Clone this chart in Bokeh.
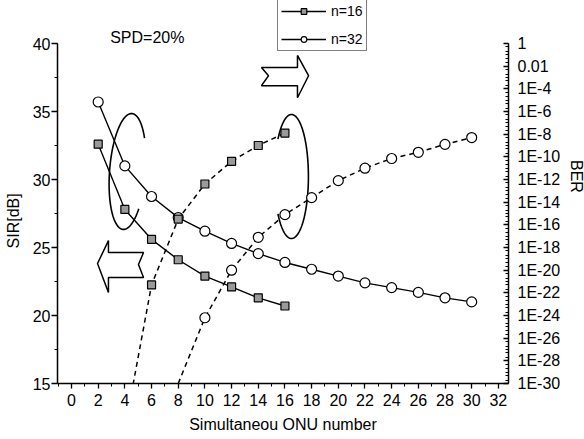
import numpy as np
from bokeh.plotting import figure
from bokeh.models import Range1d, LinearAxis, FixedTicker, Legend, LegendItem, Label
from bokeh.embed import file_html
from bokeh.resources import INLINE

# ---------------- data ----------------
onu_sir16 = [2, 4, 6, 8, 10, 12, 14, 16]
sir_n16 = [32.6, 27.8, 25.6, 24.1, 22.9, 22.1, 21.3, 20.7]

onu_sir32 = [2, 4, 6, 8, 10, 12, 14, 16, 18, 20, 22, 24, 26, 28, 30]
sir_n32 = [35.7, 31.0, 28.75, 27.2, 26.2, 25.3, 24.55, 23.9, 23.4, 22.9,
           22.4, 22.05, 21.7, 21.3, 21.0]

# BER curves (first value of each lies below the plotted range: only the line continues there)
onu_ber16 = [4, 6, 8, 10, 12, 14, 16]
ber_n16 = [1e-34, 5.0e-22, 3.2e-16, 4.0e-13, 4.0e-11, 1.0e-9, 1.26e-8]

onu_ber32 = [8, 10, 12, 14, 16, 18, 20, 22, 24, 26, 28, 30]
ber_n32 = [1e-30, 6.3e-25, 1.0e-20, 7.9e-18, 7.9e-16, 2.5e-14, 7.9e-13,
           1.0e-11, 7.1e-11, 2.5e-10, 1.26e-9, 5.0e-9]

x_ticks = list(range(0, 33, 2))
sir_ticks = [15, 20, 25, 30, 35, 40]
ber_exponents = list(range(-30, 1, 2))
ber_labels = ["1E%d" % e if e < -2 else ("0.01" if e == -2 else "1") for e in ber_exponents]

FONT = "Liberation Sans"
NBSP = "\u00a0"

# frame geometry: axes 15..40 dB (and 1E-30..1) occupy the lower 340 px of a 383 px frame
FRAME_W, FRAME_H, AXIS_H = 451, 383, 340
sir_top = 15 + (40 - 15) * FRAME_H / AXIS_H
ber_top = -30 + 30 * FRAME_H / AXIS_H

p = figure(frame_width=FRAME_W, frame_height=FRAME_H,
           x_range=Range1d(-1.05, 32.76), y_range=Range1d(15, sir_top),
           output_backend="svg", toolbar_location=None,
           min_border_left=57, min_border_right=76, min_border_top=0, min_border_bottom=54)
p.extra_y_ranges = {"ber": Range1d(-30, ber_top)}
p.xgrid.visible = False
p.ygrid.visible = False
p.outline_line_color = None
p.background_fill_color = "white"
p.border_fill_color = "white"

def style_axis(ax, size="16px"):
    ax.axis_line_color = "black"
    ax.axis_line_width = 1.5
    ax.major_tick_line_color = "black"
    ax.minor_tick_line_color = "black"
    ax.major_tick_line_width = 1.3
    ax.minor_tick_line_width = 1.0
    ax.major_label_text_font = FONT
    ax.major_label_text_font_size = size
    ax.major_label_text_color = "black"
    ax.axis_label_text_font = FONT
    ax.axis_label_text_font_size = size
    ax.axis_label_text_font_style = "normal"
    ax.axis_label_text_color = "black"

xa = p.xaxis[0]
style_axis(xa)
xa.ticker = FixedTicker(ticks=x_ticks, minor_ticks=list(range(-1, 33)))
xa.major_tick_out = 5
xa.major_tick_in = 0
xa.minor_tick_out = 3
xa.minor_tick_in = 0
xa.major_label_standoff = 5
xa.axis_label = "Simultaneou ONU number"
xa.axis_label_standoff = 7

ya = p.yaxis[0]
style_axis(ya)
ya.bounds = (15, 40)
ya.ticker = FixedTicker(ticks=sir_ticks, minor_ticks=list(np.arange(15, 40.1, 2.5)))
ya.major_tick_out = 6
ya.major_tick_in = 0
ya.minor_tick_out = 3
ya.minor_tick_in = 0
ya.major_label_standoff = 1
ya.axis_label = "SIR[dB]" + NBSP * 13
ya.axis_label_standoff = 8

ber_minor = []
for k in range(-30, 1):
    ber_minor.append(k)
    if k < 0:
        ber_minor.append(k + np.log10(2))
        ber_minor.append(k + np.log10(5))
ra = LinearAxis(y_range_name="ber", bounds=(-30, 0),
                ticker=FixedTicker(ticks=ber_exponents, minor_ticks=ber_minor),
                major_label_overrides={e: lab for e, lab in zip(ber_exponents, ber_labels)})
style_axis(ra, "16px")
ra.major_tick_in = 5
ra.major_tick_out = 0
ra.minor_tick_in = 3
ra.minor_tick_out = 0
ra.major_label_standoff = 9
ra.axis_label_standoff = 5
ra.axis_label = "BER" + NBSP * 7
p.add_layout(ra, "right")

# ---------------- decorations: arrows and loops ----------------
p.patch([14.24, 16.94, 16.94, 17.77, 16.94, 16.94, 14.24, 14.77],
        [38.24, 38.24, 39.12, 37.63, 36.01, 36.90, 36.90, 37.63],
        fill_color="white", line_color="black", line_width=1.5)
p.patch([1.95, 2.77, 2.77, 5.40, 5.02, 5.40, 2.77, 2.77],
        [23.82, 25.51, 24.63, 24.63, 23.75, 22.79, 22.79, 21.69],
        fill_color="white", line_color="black", line_width=1.5)

t1 = np.radians(np.linspace(35, 320, 120))
ex, ey = 1.35 * np.cos(t1), 4.26 * np.sin(t1)
p.line(4.2 + ex + 0.07 * ey, 30.59 + ey, line_color="black", line_width=1.6)
t2 = np.radians(np.linspace(-143, 143, 120))
p.line(16.49 + 1.27 * np.cos(t2), 30.22 + 4.56 * np.sin(t2), line_color="black", line_width=1.6)

# ---------------- data series ----------------
l16 = p.line(onu_sir16, sir_n16, line_color="black", line_width=1.4)
m16 = p.scatter(onu_sir16, sir_n16, marker="square", size=8, fill_color="#9a9a9a",
                line_color="black", line_width=1.2)
l32 = p.line(onu_sir32, sir_n32, line_color="black", line_width=1.4)
m32 = p.scatter(onu_sir32, sir_n32, marker="circle", size=10, fill_color="white",
                line_color="black", line_width=1.2)

log16 = np.log10(ber_n16)
log32 = np.log10(ber_n32)
p.line(onu_ber16, log16, y_range_name="ber", line_color="black", line_width=1.5, line_dash="5 4")
p.scatter(onu_ber16[1:], log16[1:], y_range_name="ber", marker="square", size=8,
          fill_color="#9a9a9a", line_color="black", line_width=1.2)
p.line(onu_ber32, log32, y_range_name="ber", line_color="black", line_width=1.5, line_dash="5 4")
p.scatter(onu_ber32[1:], log32[1:], y_range_name="ber", marker="circle", size=10,
          fill_color="white", line_color="black", line_width=1.2)

p.add_layout(Label(x=2.9, y=39.8, text="SPD=20%", text_font=FONT, text_font_size="16px",
                   text_color="black", text_baseline="bottom"))

legend = Legend(items=[LegendItem(label="n=16", renderers=[l16, m16]),
                       LegendItem(label="n=32", renderers=[l32, m32])],
                location=(220, 332), orientation="vertical",
                label_text_font=FONT, label_text_font_size="14px", label_text_color="black",
                glyph_width=45, glyph_height=14, label_height=14, label_standoff=5,
                padding=3, spacing=12, margin=0,
                border_line_color="black", border_line_width=1.8,
                background_fill_color="white", background_fill_alpha=1.0)
p.add_layout(legend, "center")

open("out.html", "w").write(file_html(p, INLINE))
